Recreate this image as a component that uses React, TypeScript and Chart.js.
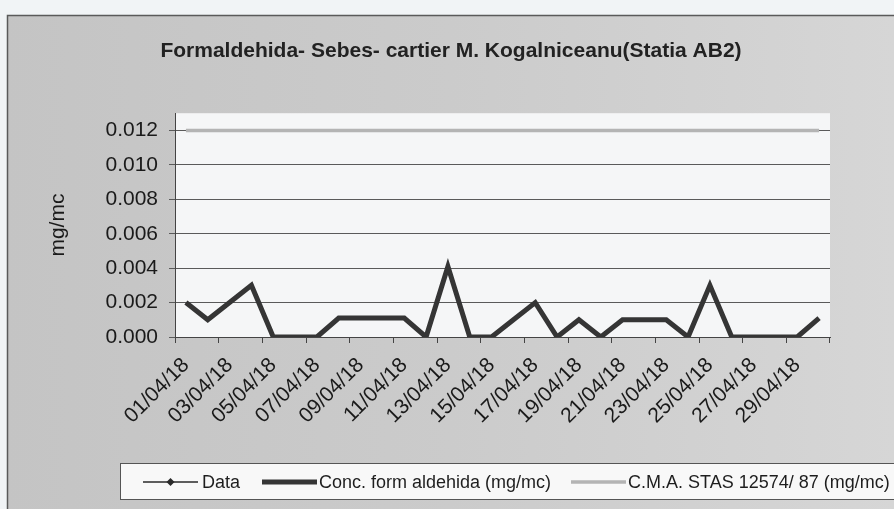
import { useEffect, useRef } from 'react';
import { Chart, registerables } from 'chart.js';

Chart.register(...registerables);

const FONT = "'Liberation Sans', Arial, sans-serif";

const chartTitle = 'Formaldehida- Sebes- cartier M. Kogalniceanu(Statia AB2)';
const yAxisTitle = 'mg/mc';

const categories = [
  '01/04/18', '02/04/18', '03/04/18', '04/04/18', '05/04/18', '06/04/18',
  '07/04/18', '08/04/18', '09/04/18', '10/04/18', '11/04/18', '12/04/18',
  '13/04/18', '14/04/18', '15/04/18', '16/04/18', '17/04/18', '18/04/18',
  '19/04/18', '20/04/18', '21/04/18', '22/04/18', '23/04/18', '24/04/18',
  '25/04/18', '26/04/18', '27/04/18', '28/04/18', '29/04/18', '30/04/18',
];

const dataLabel = 'Data';
const dataSeries: (number | null)[] = [];

const concLabel = 'Conc. form aldehida (mg/mc)';
const concValues = [
  0.002, 0.001, 0.002, 0.003, 0, 0,
  0, 0.0011, 0.0011, 0.0011, 0.0011, 0,
  0.0041, 0, 0, 0.001, 0.002, 0,
  0.001, 0, 0.001, 0.001, 0.001, 0,
  0.003, 0, 0, 0, 0, 0.0011,
];

const cmaLabel = 'C.M.A. STAS 12574/ 87 (mg/mc)';
const cmaValues = [
  0.012, 0.012, 0.012, 0.012, 0.012, 0.012,
  0.012, 0.012, 0.012, 0.012, 0.012, 0.012,
  0.012, 0.012, 0.012, 0.012, 0.012, 0.012,
  0.012, 0.012, 0.012, 0.012, 0.012, 0.012,
  0.012, 0.012, 0.012, 0.012, 0.012, 0.012,
];

const yTickValues = [0, 0.002, 0.004, 0.006, 0.008, 0.01, 0.012];
const yMin = 0;
const yMax = 0.013;

const backgroundPlugin = {
  id: 'scanBackground',
  beforeDraw(chart: any) {
    const { ctx, width, height, chartArea } = chart;
    ctx.save();
    ctx.fillStyle = '#f1f4f6';
    ctx.fillRect(0, 0, width, height);
    const g = ctx.createLinearGradient(7, 0, width, 0);
    g.addColorStop(0, '#c4c4c4');
    g.addColorStop(0.5, '#cbcbcb');
    g.addColorStop(1, '#d6d6d6');
    ctx.fillStyle = g;
    ctx.fillRect(7, 15, width - 7, height - 15);
    ctx.strokeStyle = '#5a5a5a';
    ctx.lineWidth = 1.5;
    ctx.beginPath();
    ctx.moveTo(7.5, height);
    ctx.lineTo(7.5, 15.5);
    ctx.lineTo(width, 15.5);
    ctx.stroke();
    ctx.fillStyle = '#f5f6f7';
    ctx.fillRect(chartArea.left, chartArea.top, chartArea.right - chartArea.left, chartArea.bottom - chartArea.top);
    ctx.restore();
  },
};

const legendPlugin = {
  id: 'scanLegend',
  afterDraw(chart: any) {
    const ctx = chart.ctx;
    ctx.save();
    ctx.fillStyle = '#f8f8f8';
    ctx.fillRect(120.5, 463.5, 800, 36);
    ctx.strokeStyle = '#555';
    ctx.lineWidth = 1;
    ctx.strokeRect(120.5, 463.5, 800, 36);
    const slots = [
      { x0: 143, x1: 198, tx: 202 },
      { x0: 262, x1: 317, tx: 319 },
      { x0: 571, x1: 626, tx: 628 },
    ];
    const y = 482;
    chart.data.datasets.forEach((ds: any, i: number) => {
      const s = slots[i];
      if (!s) return;
      ctx.strokeStyle = ds.borderColor;
      ctx.lineWidth = ds.borderWidth;
      ctx.beginPath();
      ctx.moveTo(s.x0, y);
      ctx.lineTo(s.x1, y);
      ctx.stroke();
      if (ds.legendMarker) {
        const cx = (s.x0 + s.x1) / 2;
        ctx.fillStyle = ds.borderColor;
        ctx.beginPath();
        ctx.moveTo(cx, y - 4);
        ctx.lineTo(cx + 4, y);
        ctx.lineTo(cx, y + 4);
        ctx.lineTo(cx - 4, y);
        ctx.closePath();
        ctx.fill();
      }
      ctx.fillStyle = '#1e1e1e';
      ctx.font = `18px ${FONT}`;
      ctx.textAlign = 'left';
      ctx.textBaseline = 'middle';
      ctx.fillText(ds.label, s.tx, y + 1);
    });
    ctx.restore();
  },
};

export default function App() {
  const ref = useRef<HTMLCanvasElement>(null);
  useEffect(() => {
    document.body.style.margin = '0';
    const canvas = ref.current;
    if (!canvas) return;
    const chart = new Chart(canvas, {
      type: 'line',
      data: {
        labels: categories,
        datasets: [
          {
            label: dataLabel,
            data: dataSeries,
            borderColor: '#2a2a2a',
            borderWidth: 1.5,
            pointRadius: 0,
            legendMarker: true,
          } as any,
          {
            label: concLabel,
            data: concValues,
            borderColor: '#353535',
            borderWidth: 5,
            pointRadius: 0,
            tension: 0,
            borderJoinStyle: 'miter',
            borderCapStyle: 'butt',
          },
          {
            label: cmaLabel,
            data: cmaValues,
            borderColor: '#b4b4b4',
            borderWidth: 3.5,
            pointRadius: 0,
            tension: 0,
          },
        ],
      },
      options: {
        responsive: false,
        animation: false,
        layout: { padding: { left: 8, right: 0, top: 0, bottom: 0 } },
        plugins: {
          legend: { display: false },
          tooltip: { enabled: false },
          title: {
            display: true,
            text: chartTitle,
            color: '#222',
            font: { family: FONT, size: 21, weight: 'bold' },
            padding: { top: 39, bottom: 49 },
          },
        },
        scales: {
          x: {
            type: 'category',
            offset: true,
            grid: {
              offset: true,
              drawOnChartArea: false,
              drawTicks: true,
              tickLength: 6,
              color: (ctx: any) => (ctx.index === undefined || ctx.index % 2 === 0 ? '#444' : 'rgba(0,0,0,0)'),
            },
            border: { display: true, color: '#444', width: 1 },
            ticks: {
              autoSkip: false,
              minRotation: 45,
              maxRotation: 45,
              padding: 10,
              color: '#1a1a1a',
              font: { family: FONT, size: 21 },
              callback: (_v: any, i: number) => (i % 2 === 0 ? categories[i] : ''),
            },
            afterFit: (scale: any) => {
              scale.height = 172;
            },
          },
          y: {
            min: yMin,
            max: yMax,
            afterBuildTicks: (scale: any) => {
              scale.ticks = yTickValues.map((v) => ({ value: v }));
            },
            grid: { color: '#5a5a5a', lineWidth: 1, tickLength: 6, drawTicks: true },
            border: { display: true, color: '#444', width: 1 },
            ticks: {
              padding: 11,
              color: '#1a1a1a',
              font: { family: FONT, size: 21 },
              callback: (v: any) => Number(v).toFixed(3),
            },
            title: {
              display: true,
              text: yAxisTitle,
              color: '#1a1a1a',
              font: { family: FONT, size: 21 },
              padding: { top: 38, bottom: 0 },
            },
            afterFit: (scale: any) => {
              scale.width = 167;
            },
          },
          yRightSpacer: {
            type: 'linear',
            position: 'right',
            display: true,
            grid: { drawOnChartArea: false, drawTicks: false, display: false },
            border: { display: false },
            ticks: { display: false },
            afterFit: (scale: any) => {
              scale.width = 64;
            },
          },
        },
      } as any,
      plugins: [backgroundPlugin, legendPlugin],
    });
    return () => chart.destroy();
  }, []);
  return (
    <div style={{ width: 894, height: 509 }}>
      <canvas ref={ref} width={894} height={509} style={{ display: 'block' }} />
    </div>
  );
}
